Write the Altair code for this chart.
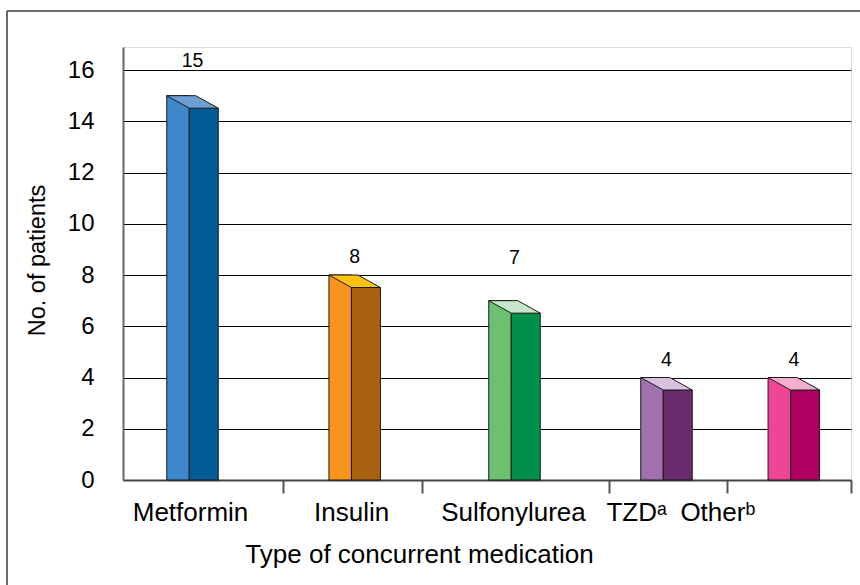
import altair as alt
import pandas as pd

# ---- data -------------------------------------------------------------
categories = ["Metformin", "Insulin", "Sulfonylurea", "TZD", "Other"]
tick_labels = ["Metformin", "Insulin", "Sulfonylurea", "TZDᵃ", "Otherᵇ"]
patients = [15, 8, 7, 4, 4]

# ---- styling ----------------------------------------------------------
side_colors = ["#3d88c9", "#f7941d", "#6cc070", "#a370ae", "#ef4597"]
front_colors = ["#015b95", "#a8620f", "#00904a", "#6a2a6e", "#ad0060"]
top_colors = ["#6b9fd6", "#ffc20e", "#c8e6c9", "#d8c1df", "#f6aecf"]
EDGE = "#1a1a1a"
FONT = "Liberation Sans"

W, H = 728, 433
# piecewise horizontal layout: slot boundaries and bar centres (px)
slot_domain = [-0.5, 0, 0.5, 1, 1.5, 2, 2.5, 3, 3.5, 4, 4.5]
slot_range = [0, 69.5, 160, 231.7, 299, 391.5, 486, 543.5, 604, 670.8, 728]
label_shift = [-2, -3, -1, -30, -76]  # px nudge of the category names
value_lift = [29, 12, 37, 12, 12]     # px gap between bar top and its count

# pseudo-3D box geometry (px)
DEPTH_X, DEPTH_Y, FACE_W = 22.5, 12.5, 29.0
half = (DEPTH_X + FACE_W) / 2
top_path = (
    f"M{-half},0L{-half + FACE_W},0L{half},{DEPTH_Y}L{half - FACE_W},{DEPTH_Y}Z"
)

df = pd.DataFrame({
    "category": categories,
    "label": tick_labels,
    "patients": patients,
    "slot": list(range(len(categories))),
})

x_enc = alt.X(
    "slot:Q",
    scale=alt.Scale(domain=slot_domain, range=slot_range, nice=False, zero=False),
    axis=alt.Axis(
        values=[0.5, 1.5, 2.5, 3.5, 4.5],
        labels=False,
        grid=False,
        tickSize=13,
        tickWidth=2,
        tickColor="#555555",
        domainColor="#444444",
        domainWidth=2,
        title="Type of concurrent medication",
        titleFont=FONT,
        titleFontSize=26,
        titleFontWeight="normal",
        titleColor="#000000",
        titleX=296,
        titleY=82,
        titleAlign="center",
        titleBaseline="alphabetic",
    ),
)
y_enc = alt.Y(
    "patients:Q",
    scale=alt.Scale(domain=[0, 16.9], nice=False, zero=True),
    axis=alt.Axis(
        values=list(range(0, 17, 2)),
        ticks=False,
        tickSize=0,
        labelFont=FONT,
        labelFontSize=24,
        labelColor="#000000",
        labelPadding=29,
        domainColor="#666666",
        domainWidth=2,
        gridColor="#000000",
        gridWidth=1,
        title="No. of patients",
        titleFont=FONT,
        titleFontSize=23.5,
        titleFontWeight="normal",
        titleColor="#000000",
        titleAngle=-90,
        titleX=-86,
        titleY=213,
        titleAlign="center",
        titleBaseline="middle",
    ),
)


def face_color(colors):
    return alt.Color(
        "category:N",
        scale=alt.Scale(domain=categories, range=colors),
        legend=None,
    )


base = alt.Chart(df)

# left (side) face of each box
side = base.mark_rect(
    xOffset=-half, x2Offset=-half + DEPTH_X, stroke=EDGE, strokeWidth=1
).encode(
    x=x_enc, x2=alt.X2("slot"), y=y_enc, y2=alt.datum(0),
    color=face_color(side_colors),
)

# front face, dropped by the box depth
front = base.mark_rect(
    xOffset=-half + DEPTH_X, x2Offset=half, yOffset=DEPTH_Y,
    stroke=EDGE, strokeWidth=1,
).encode(
    x=x_enc, x2=alt.X2("slot"), y=y_enc, y2=alt.datum(0),
    color=face_color(front_colors),
)

# top face: a parallelogram glyph anchored at the bar value (size 4 -> 1px units)
top = base.mark_point(
    shape=top_path, size=4, filled=True, opacity=1,
    stroke=EDGE, strokeWidth=1,
).encode(
    x=x_enc, y=y_enc, color=face_color(top_colors),
)

layers = [side, front, top]

for i in range(len(categories)):
    one = base.transform_filter(alt.datum.slot == i)
    layers.append(
        one.mark_text(
            font=FONT, fontSize=19.5, color="#000000",
            baseline="alphabetic", dy=-value_lift[i],
        ).encode(x=x_enc, y=y_enc, text="patients:Q")
    )
    layers.append(
        one.mark_text(
            font=FONT, fontSize=26, color="#000000",
            baseline="alphabetic", dx=label_shift[i], dy=41,
        ).encode(x=x_enc, y=alt.value(H), text="label:N")
    )

# outer frame: top and left edges of the figure box
frame_src = alt.Chart(pd.DataFrame({"k": [0]}))
frame_top = frame_src.mark_rule(color="#3a3a3a", strokeWidth=1.5).encode(
    x=alt.value(-116), x2=alt.value(W + 60), y=alt.value(-36)
)
frame_left = frame_src.mark_rule(color="#3a3a3a", strokeWidth=1.5).encode(
    x=alt.value(-116), y=alt.value(-36), y2=alt.value(H + 160)
)
layers += [frame_top, frame_left]

chart = (
    alt.layer(*layers)
    .resolve_scale(color="independent")
    .properties(
        width=W,
        height=H,
        padding={"left": 123, "top": 47, "right": 9, "bottom": 105},
        autosize=alt.AutoSizeParams(type="none"),
        background="#ffffff",
    )
    .configure_view(stroke=None)
    .configure(font=FONT)
)

chart.save("out.html", embed_options={"renderer": "svg", "actions": False})
